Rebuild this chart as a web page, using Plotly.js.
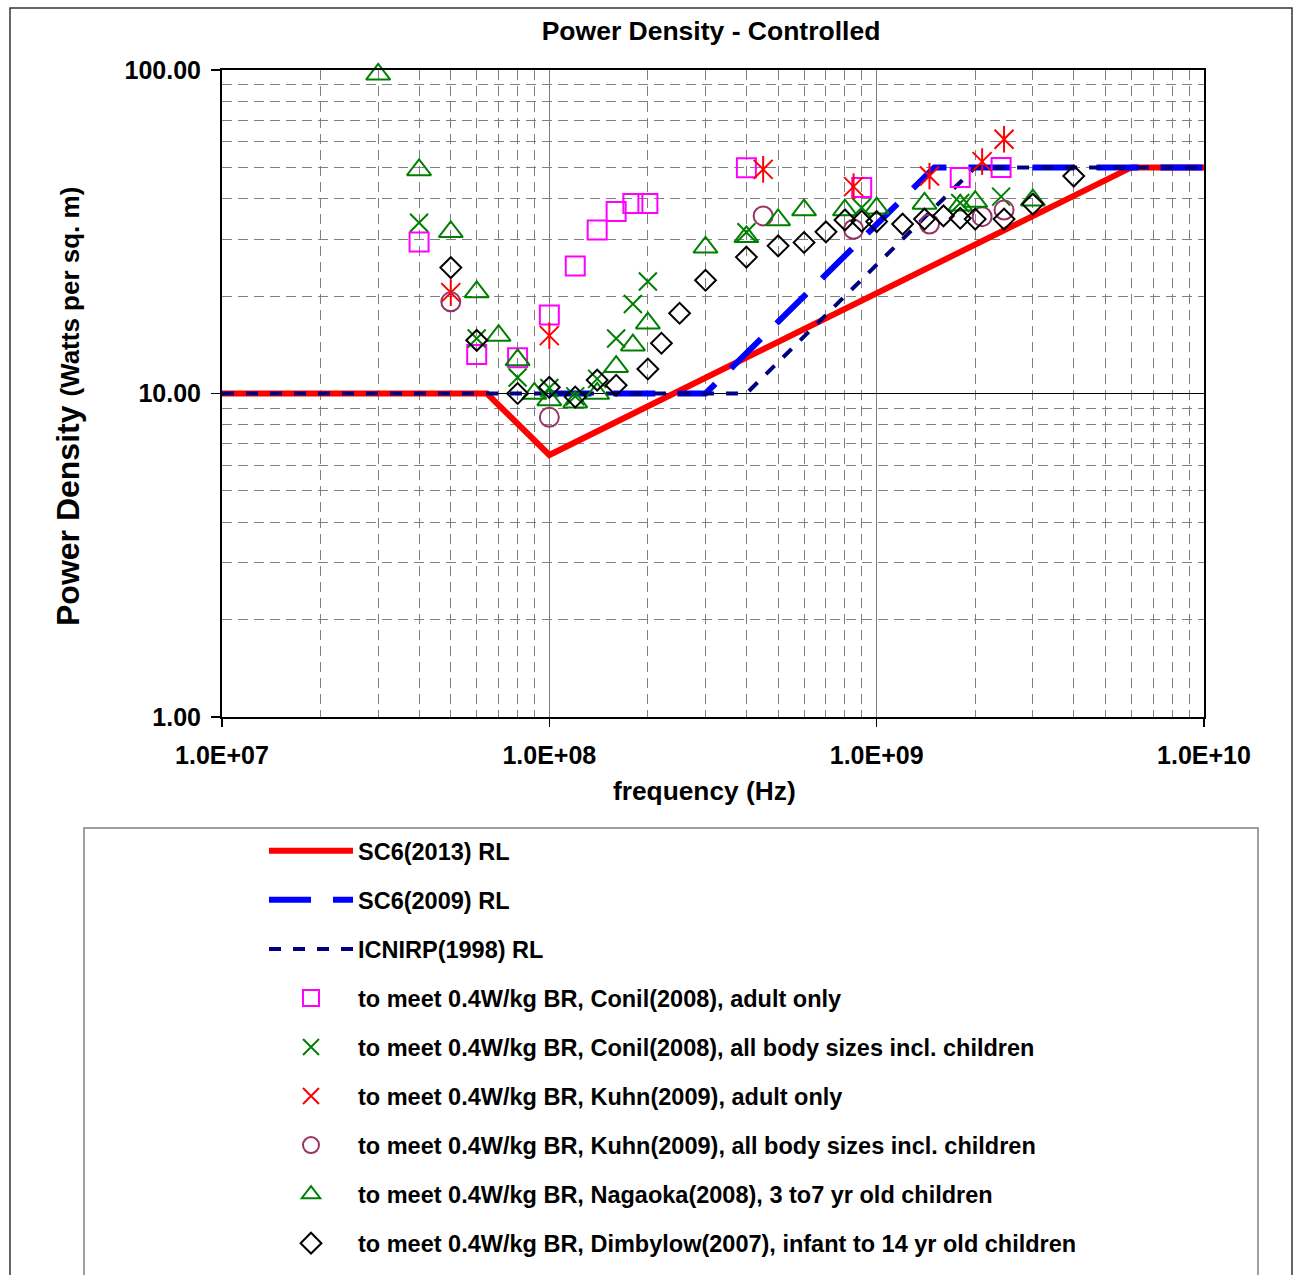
<!DOCTYPE html>
<html>
<head>
<meta charset="utf-8">
<script src="https://cdn.plot.ly/plotly-3.0.1.min.js"></script>
<style>html,body{margin:0;padding:0;background:#fff;}#chart{width:1301px;height:1275px;}</style>
</head>
<body>
<div id="chart"></div>
<script>
// ---- Reference lines ----
const sc6_2013_f = [1e7, 6.45e7, 1e8, 6e9, 1e10];
const sc6_2013_p = [10, 10, 6.455, 50, 50];
const sc6_2009_f = [1e8, 3e8, 1.5e9, 1e10];
const sc6_2009_p = [10, 10, 50, 50];
const icnirp_f = [1e7, 4e8, 2e9, 1e10];
const icnirp_p = [10, 10, 50, 50];

// ---- Study points ----
const conilAdult_f = [4e7, 6e7, 8e7, 1e8, 1.2e8, 1.4e8, 1.6e8, 1.8e8, 2e8, 4e8, 9e8, 1.8e9, 2.4e9];
const conilAdult_p = [29.4, 13.2, 12.9, 17.5, 24.8, 32.0, 36.5, 38.7, 38.7, 49.9, 43.3, 46.5, 50.0];

const conilAll_f = [4e7, 6e7, 8e7, 1e8, 1.2e8, 1.4e8, 1.6e8, 1.8e8, 2e8, 4e8, 9e8, 1.8e9, 2.4e9];
const conilAll_p = [33.7, 14.8, 11.2, 10.4, 9.8, 11.1, 14.8, 18.9, 22.2, 31.5, 37.5, 38.8, 40.6];

const kuhnAdult_f = [5e7, 1e8, 4.5e8, 8.5e8, 1.45e9, 2.1e9, 2.45e9];
const kuhnAdult_p = [20.5, 15.1, 49.3, 43.6, 47.0, 52.1, 61.1];

const kuhnAll_f = [5e7, 1e8, 4.5e8, 8.5e8, 1.45e9, 2.1e9, 2.45e9];
const kuhnAll_p = [19.2, 8.44, 35.4, 32.2, 33.4, 35.2, 36.9];

const nagaoka_f = [3e7, 4e7, 5e7, 6e7, 7e7, 8e7, 9e7, 1e8, 1.2e8, 1.4e8, 1.6e8, 1.8e8, 2e8, 3e8, 4e8, 5e8, 6e8, 8e8, 1e9, 1.4e9, 1.8e9, 2e9, 3e9];
const nagaoka_p = [97, 49.1, 31.6, 20.6, 15.1, 12.7, 10.0, 9.55, 9.4, 10.0, 12.1, 14.1, 16.5, 28.3, 30.5, 34.4, 36.9, 36.9, 37.4, 38.7, 38.2, 39.2, 39.6];

const dimbylow_f = [5e7, 6e7, 8e7, 1e8, 1.2e8, 1.4e8, 1.6e8, 2e8, 2.2e8, 2.5e8, 3e8, 4e8, 5e8, 6e8, 7e8, 8e8, 9e8, 1e9, 1.2e9, 1.4e9, 1.6e9, 1.8e9, 2e9, 2.45e9, 3e9, 4e9];
const dimbylow_p = [24.5, 14.6, 10.0, 10.45, 9.75, 11.0, 10.6, 11.9, 14.3, 17.7, 22.4, 26.4, 28.6, 29.3, 31.6, 34.4, 34.1, 34.0, 33.4, 34.6, 35.4, 34.8, 34.6, 34.6, 38.5, 47.0];

// ---- Labels ----
const xTickVals = [1e7, 1e8, 1e9, 1e10];
const xTickText = ["1.0E+07", "1.0E+08", "1.0E+09", "1.0E+10"];
const yTickVals = [1, 10, 100];
const yTickText = ["1.00", "10.00", "100.00"];
const chartTitle = "Power Density - Controlled";
const xTitle = "frequency (Hz)";
const yTitleMain = "Power Density";
const yTitleUnit = "(Watts per sq. m)";
const seriesNames = [
  "SC6(2013) RL",
  "SC6(2009) RL",
  "ICNIRP(1998) RL",
  "to meet 0.4W/kg BR, Conil(2008), adult only",
  "to meet 0.4W/kg BR, Conil(2008), all body sizes incl. children",
  "to meet 0.4W/kg BR, Kuhn(2009), adult only",
  "to meet 0.4W/kg BR, Kuhn(2009), all body sizes incl. children",
  "to meet 0.4W/kg BR, Nagaoka(2008), 3 to7 yr old children",
  "to meet 0.4W/kg BR, Dimbylow(2007), infant to 14 yr old children"
];

// ---- layout geometry (pixels) ----
const W = 1301, H = 1275;
const PL = 222, PR = 1204, PT = 70, PB = 717;
const px = v => (v - PL) / (PR - PL);
const py = v => (PB - v) / (PB - PT);

function minorVals(d0, d1) {
  const out = [];
  for (let d = d0; d < d1; d++) for (let k = 2; k <= 9; k++) out.push(k * Math.pow(10, d));
  return out;
}

const FONT = "Arial, 'Liberation Sans', sans-serif";

const traces = [
  {x: sc6_2013_f, y: sc6_2013_p, name: seriesNames[0], mode: 'lines', line: {color: '#FF0000', width: 6}},
  {x: sc6_2009_f, y: sc6_2009_p, name: seriesNames[1], mode: 'lines', line: {color: '#0000FF', width: 6, dash: '42px,22px'}},
  {x: icnirp_f, y: icnirp_p, name: seriesNames[2], mode: 'lines', line: {color: '#000080', width: 4, dash: '12px,12px'}},
  {x: conilAdult_f, y: conilAdult_p, name: seriesNames[3], mode: 'markers', marker: {symbol: 'square-open', size: 19, color: '#FF00FF', line: {width: 2}}},
  {x: conilAll_f, y: conilAll_p, name: seriesNames[4], mode: 'markers', marker: {symbol: 'x-thin-open', size: 18, color: '#008000', line: {width: 2, color: '#008000'}}},
  {x: kuhnAdult_f, y: kuhnAdult_p, name: seriesNames[5], mode: 'markers', marker: {symbol: 'x-thin-open', size: 19, color: '#FF0000', line: {width: 2, color: '#FF0000'}}},
  {x: kuhnAdult_f, y: kuhnAdult_p, name: seriesNames[5], mode: 'markers', showlegend: false, hoverinfo: 'skip', marker: {symbol: 'line-ns-open', size: 19, color: '#FF0000', line: {width: 2, color: '#FF0000'}}},
  {x: kuhnAll_f, y: kuhnAll_p, name: seriesNames[6], mode: 'markers', marker: {symbol: 'circle-open', size: 19, color: '#993366', line: {width: 2}}},
  {x: nagaoka_f, y: nagaoka_p, name: seriesNames[7], mode: 'markers', marker: {symbol: 'triangle-up-open', size: 21, color: '#008000', line: {width: 2}}},
  {x: dimbylow_f, y: dimbylow_p, name: seriesNames[8], mode: 'markers', marker: {symbol: 'diamond-open', size: 16, color: '#000000', line: {width: 2}}}
];
traces.forEach((t, i) => {
  t.type = 'scatter';
  t.legendgroup = 'g' + (i === 6 ? 5 : i);
  if (t.mode === 'markers') t.cliponaxis = false;
});

const layout = {
  width: W, height: H,
  paper_bgcolor: '#FFFFFF', plot_bgcolor: '#FFFFFF',
  margin: {l: PL, r: W - PR, t: PT, b: H - PB, pad: 0, autoexpand: false},
  font: {family: FONT, color: '#000000'},
  title: {text: chartTitle, font: {size: 26.5, weight: 'bold', family: FONT, color: '#000'},
          x: px(711), xref: 'paper', xanchor: 'center', y: 1 - 31 / H, yref: 'container', yanchor: 'middle'},
  xaxis: {
    type: 'log', range: [7, 10], automargin: false,
    tickmode: 'array', tickvals: xTickVals, ticktext: xTickText,
    tickfont: {size: 25, weight: 'bold', family: FONT},
    ticks: 'outside', ticklen: 8, tickcolor: '#000', tickwidth: 1.5, ticklabelstandoff: 7,
    showline: true, linecolor: '#000', linewidth: 2, mirror: true,
    showgrid: true, gridcolor: '#808080', gridwidth: 1,
    zeroline: false,
    minor: {tickmode: 'array', tickvals: minorVals(7, 10), showgrid: true, gridcolor: '#808080', griddash: '10px,6px', gridwidth: 1, ticks: ''}
  },
  yaxis: {
    type: 'log', range: [0, 2], automargin: false,
    tickmode: 'array', tickvals: yTickVals, ticktext: yTickText,
    tickfont: {size: 25, weight: 'bold', family: FONT},
    ticks: 'outside', ticklen: 9, tickcolor: '#000', tickwidth: 1.5, ticklabelstandoff: 5,
    showline: true, linecolor: '#000', linewidth: 2, mirror: true,
    showgrid: true, gridcolor: '#000000', gridwidth: 1,
    zeroline: false,
    minor: {tickmode: 'array', tickvals: minorVals(0, 2), showgrid: true, gridcolor: '#808080', griddash: '10px,6px', gridwidth: 1, ticks: ''}
  },
  showlegend: true,
  legend: {
    x: px(264), xanchor: 'left', y: py(829), yanchor: 'top',
    bgcolor: 'rgba(0,0,0,0)', borderwidth: 0,
    font: {size: 23.5, weight: 'bold', family: FONT, color: '#000'},
    tracegroupgap: 15.5, itemwidth: 84
  },
  annotations: [
    {
      text: yTitleMain + " <span style='font-size:26px'>" + yTitleUnit + "</span>",
      xref: 'paper', yref: 'paper', x: px(68), y: py(407), xanchor: 'center', yanchor: 'middle',
      textangle: -90, showarrow: false, font: {size: 32, weight: 'bold', family: FONT, color: '#000'}
    },
    {
      text: xTitle, xref: 'paper', yref: 'paper', x: px(704.5), y: py(791), xanchor: 'center', yanchor: 'middle',
      showarrow: false, font: {size: 26.3, weight: 'bold', family: FONT, color: '#000'}
    }
  ],
  shapes: [
    {type: 'rect', xref: 'paper', yref: 'paper', x0: px(10), x1: px(1292), y0: py(1290), y1: py(8), line: {color: '#333333', width: 1.5}, layer: 'below'},
    {type: 'rect', xref: 'paper', yref: 'paper', x0: px(84), x1: px(1258), y0: py(1290), y1: py(828), line: {color: '#808080', width: 1.5}, layer: 'below'}
  ]
};

Plotly.newPlot('chart', traces, layout, {displayModeBar: false, staticPlot: true});
</script>
</body>
</html>
